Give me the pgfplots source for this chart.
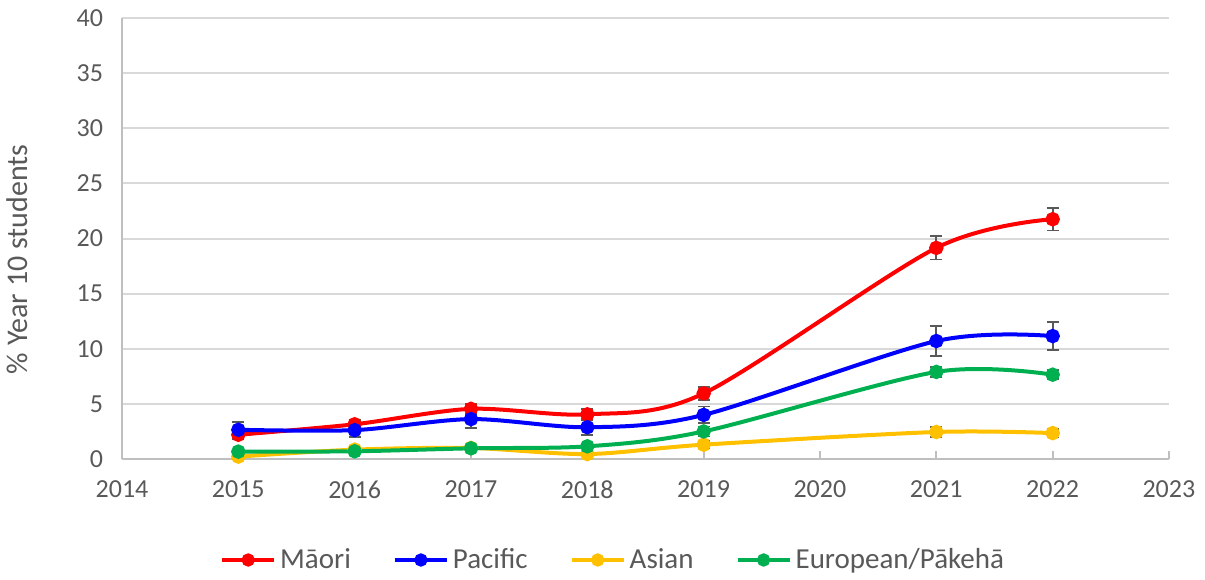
\documentclass[border=0pt]{standalone}
\usepackage{fontspec}
\setmainfont{Carlito}
\usepackage{pgfplots}
\pgfplotsset{compat=1.18}

\definecolor{maori}{HTML}{FF0000}
\definecolor{pacific}{HTML}{0000FF}
\definecolor{asian}{HTML}{FFC000}
\definecolor{europ}{HTML}{00B050}
\definecolor{txt}{HTML}{595959}
\definecolor{grid}{HTML}{D9D9D9}
\definecolor{axln}{HTML}{BFBFBF}
\definecolor{errc}{HTML}{595959}

% x  y  ey
\pgfplotstableread{
x y ey
2015 2.20 0.42
2016 3.15 0.42
2017 4.55 0.46
2018 4.05 0.45
2019 5.95 0.60
2021 19.15 1.05
2022 21.75 1.03
}\maoritab
\pgfplotstableread{
x y ey
2015 2.65 0.70
2016 2.62 0.62
2017 3.62 0.78
2018 2.88 0.67
2019 4.00 0.76
2021 10.70 1.33
2022 11.15 1.27
}\pacifictab
\pgfplotstableread{
x y ey
2015 0.22 0.20
2016 0.85 0.20
2017 1.00 0.20
2018 0.45 0.20
2019 1.30 0.35
2021 2.45 0.45
2022 2.35 0.40
}\asiantab
\pgfplotstableread{
x y ey
2015 0.67 0.20
2016 0.70 0.20
2017 0.97 0.20
2018 1.15 0.20
2019 2.50 0.45
2021 7.90 0.45
2022 7.65 0.42
}\europtab

\begin{document}
\begin{tikzpicture}
\path[use as bounding box] (-61pt,-60pt) rectangle (541.5pt,229.5pt);
\begin{axis}[at={(0,0)}, anchor=south west,
  scale only axis, width=523.5pt, height=220.5pt,
  xmin=2014, xmax=2023, ymin=0, ymax=40,
  xtick={2014,...,2023}, ytick={0,5,...,40},
  axis x line*=bottom, axis y line*=left,
  axis line style={draw=axln, line width=1pt, -},
  ymajorgrids, grid style={draw=grid, line width=1pt},
  x tick style={draw=axln, line width=1pt}, tick align=inside,
  major tick length=4pt, y tick style={draw=none},
  tick label style={font=\fontsize{13}{15}\selectfont, text=txt},
  /pgf/number format/assume math mode=true,
  /pgf/number format/1000 sep={},
  xticklabel style={yshift=-7.5pt},
  yticklabel style={xshift=-6pt},
  ylabel={\% Year 10 students},
  ylabel style={font=\fontsize{15}{17}\selectfont, text=txt, anchor=south,
    at={(axis description cs:-0.083,0.453)}},
  legend columns=4,
  legend style={at={(axis description cs:0.47,-0.229)}, anchor=center, draw=none,
    font=\fontsize{14.5}{17}\selectfont, text=txt,
    /tikz/every even column/.append style={column sep=19pt}},
  legend image code/.code={\draw[#1, mark repeat=2, mark phase=2, mark size=2.3pt]
    plot coordinates {(0pt,0pt)(13pt,0pt)(26pt,0pt)};},
  every axis plot/.append style={smooth, line width=2pt, mark=*, mark size=2.6pt,
    /pgfplots/error bars/y dir=both, /pgfplots/error bars/y explicit,
    /pgfplots/error bars/error bar style={draw=errc, line width=0.9pt, solid},
    /pgfplots/error bars/error mark options={draw=errc, line width=0.9pt, mark size=3pt, rotate=90}},
]
\addplot[maori, mark options={fill=maori, draw=maori}] table[x=x, y=y, y error=ey] {\maoritab};
\addlegendentry{Māori}
\addplot[pacific, mark options={fill=pacific, draw=pacific}] table[x=x, y=y, y error=ey] {\pacifictab};
\addlegendentry{Pacific}
\addplot[asian, mark options={fill=asian, draw=asian}] table[x=x, y=y, y error=ey] {\asiantab};
\addlegendentry{Asian}
\addplot[europ, mark options={fill=europ, draw=europ}] table[x=x, y=y, y error=ey] {\europtab};
\addlegendentry{European/Pākehā}
\end{axis}
\end{tikzpicture}
\end{document}
